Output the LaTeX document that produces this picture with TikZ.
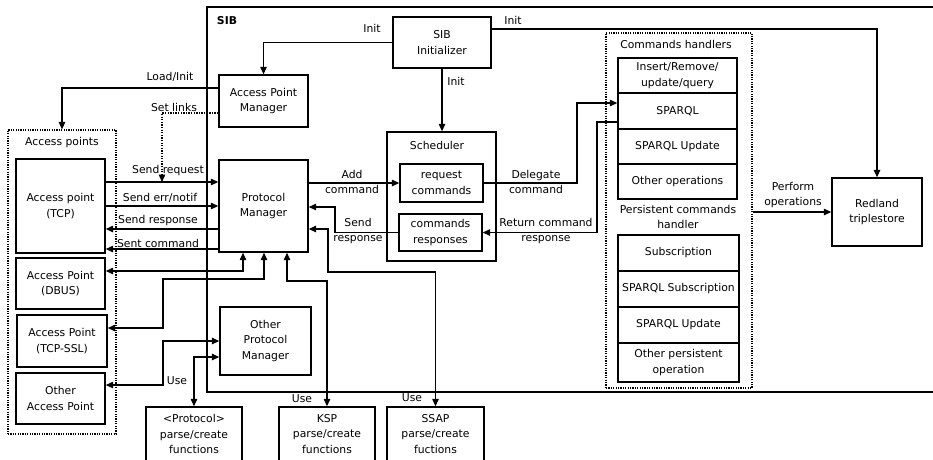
\documentclass[tikz,border=0pt]{standalone}
\usepackage{fontspec}
\setmainfont{DejaVu Sans}
\usetikzlibrary{arrows.meta}

\begin{document}
\begin{tikzpicture}[x=1pt, y=-1pt,
    font=\fontsize{10.8}{15.5}\selectfont,
    box/.style = {draw, line width=1.4pt, align=center, inner sep=1pt},
    area/.style = {draw, line width=1.2pt, dash pattern=on 1.2pt off 1.2pt},
    lbl/.style = {align=center, inner sep=0pt},
    arr/.style = {line width=1.3pt, -{Triangle[length=7.5pt,width=6.5pt]}},
    dbl/.style = {line width=1.3pt, {Triangle[length=7.5pt,width=6.5pt]}-{Triangle[length=7.5pt,width=6.5pt]}}]
    \useasboundingbox (0,0) rectangle (933,459);

    % Marco
    \node[draw, line width=1.4pt, minimum width=738pt, minimum height=385pt] (sib) at (576,199.5) {};
    \node[lbl, font=\fontsize{10.8}{12}\selectfont\bfseries] (sibl) at (227,21) {SIB};

    % Contenedores
    \node[area, minimum width=108pt, minimum height=304pt] (aps) at (62,282) {};
    \node[lbl] (apsl) at (62,143) {Access points};
    \node[area, minimum width=146pt, minimum height=355pt] (hnd) at (679,210.5) {};
    \node[lbl] (hndl) at (676,44) {Commands handlers};
    \node[lbl] (pers) at (678,217) {Persistent commands\\handler};

    % Cajas
    \node[box, minimum width=98pt, minimum height=51pt] (init) at (442,42.5) {SIB\\Initializer};
    \node[box, minimum width=89pt, minimum height=52pt] (apm) at (263.5,101) {Access Point\\Manager};
    \node[box, minimum width=89pt, minimum height=92pt] (pm) at (263.5,206) {Protocol\\Manager};
    \node[box, minimum width=91pt, minimum height=68pt] (opm) at (265.5,341) {Other\\Protocol\\Manager};

    \node[box, minimum width=89pt, minimum height=94pt] (tcp) at (60.5,206) {Access point\\(TCP)};
    \node[box, minimum width=89pt, minimum height=51pt] (dbus) at (60.5,283.5) {Access Point\\(DBUS)};
    \node[box, minimum width=90pt, minimum height=52pt] (ssl) at (62,341) {Access Point\\(TCP-SSL)};
    \node[box, minimum width=89pt, minimum height=51pt] (oap) at (60.5,398.5) {Other\\Access Point};

    \node[box, minimum width=109pt, minimum height=129pt] (sch) at (441.5,196.5) {};
    \node[lbl] (schl) at (437,145) {Scheduler};
    \node[box, minimum width=83pt, minimum height=38pt] (req) at (441.5,183) {request\\commands};
    \node[box, minimum width=83pt, minimum height=37pt] (resp) at (440.5,232.5) {commands\\responses};

    \node[box, minimum width=119pt, minimum height=35pt] (h1) at (677.5,75.5) {Insert/Remove/\\update/query};
    \node[box, minimum width=119pt, minimum height=36pt] (h2) at (677.5,111) {SPARQL};
    \node[box, minimum width=119pt, minimum height=35pt] (h3) at (677.5,146.5) {SPARQL Update};
    \node[box, minimum width=119pt, minimum height=35pt] (h4) at (677.5,181.5) {Other operations};

    \node[box, minimum width=121pt, minimum height=36pt] (p1) at (678.5,253) {Subscription};
    \node[box, minimum width=121pt, minimum height=36pt] (p2) at (678.5,289) {SPARQL Subscription};
    \node[box, minimum width=121pt, minimum height=36pt] (p3) at (678.5,325) {SPARQL Update};
    \node[box, minimum width=121pt, minimum height=39pt] (p4) at (678.5,362.5) {Other persistent\\operation};

    \node[box, minimum width=90pt, minimum height=68pt] (red) at (877,212) {Redland\\triplestore};

    \node[box, minimum width=96pt, minimum height=54pt] (prot) at (194,434) {<Protocol>\\parse/create\\functions};
    \node[box, minimum width=96pt, minimum height=54pt] (ksp) at (327,434) {KSP\\parse/create\\functions};
    \node[box, minimum width=97pt, minimum height=54pt] (ssap) at (435.5,434) {SSAP\\parse/create\\fuctions};

    % Etiquetas
    \node[lbl] (i1) at (372,28) {Init};
    \node[lbl] (i2) at (513,20) {Init};
    \node[lbl] (i3) at (456,81) {Init};
    \node[lbl] (load) at (170,77) {Load/Init};
    \node[lbl] (links) at (174,107) {Set links};
    \node[lbl] (sreq) at (168,171) {Send request};
    \node[lbl] (serr) at (160,198) {Send err/notif};
    \node[lbl] (sres) at (158,221) {Send response};
    \node[lbl] (scmd) at (158,243) {Sent command};
    \node[lbl] (add) at (352,182) {Add\\command};
    \node[lbl] (deleg) at (536,182) {Delegate\\command};
    \node[lbl] (back) at (358,231) {Send\\response};
    \node[lbl] (ret) at (546,231) {Return command\\response};
    \node[lbl] (perf) at (793,195) {Perform\\operations};
    \node[lbl] (u1) at (177,381) {Use};
    \node[lbl] (u2) at (302,399) {Use};
    \node[lbl] (u3) at (412,398) {Use};

    % Conexiones
    \coordinate (sl) at (162,182);
    \draw[arr] (init.west) -| (apm.north);
    \draw[arr] (init.east |- 0,29) -| (red.north);
    \draw[arr] (init.south) -- (init.south |- sch.north);
    \draw[arr] (apm.west |- 0,88) -| (aps.north);
    \draw[arr, dash pattern=on 1.3pt off 1.3pt] (apm.west |- 0,113) -| (sl);

    \draw[arr] (tcp.east |- 0,182) -- (pm.west |- 0,182);
    \draw[arr] (tcp.east |- 0,206) -- (pm.west |- 0,206);
    \draw[arr] (pm.west |- 0,229) -- (tcp.east |- 0,229);
    \draw[arr] (pm.west |- 0,249) -- (tcp.east |- 0,249);
    \draw[dbl] (dbus.east |- 0,271) -| (pm.south -| 243,0);
    \draw[dbl] (ssl.east |- 0,328) -| (163,279) -| (pm.south -| 264,0);
    \draw[dbl] (pm.south -| 287,0) |- (ksp.north |- 0,281) -- (ksp.north);
    \draw[dbl] (pm.east |- 0,229) -| (328,272) -| (ssap.north);
    \draw[dbl] (oap.east |- 0,385) -| (163,341) -- (opm.west |- 0,341);
    \draw[dbl] (prot.north) |- (opm.west |- 0,357);

    \draw[arr] (pm.east |- 0,183) -- (req.west);
    \draw[arr] (resp.west) -| (335,207) -- (pm.east |- 0,207);
    \draw[arr] (req.east) -| (577,103) -- (h2.west |- 0,103);
    \draw[arr] (h2.west |- 0,122) -| (597,232.5) -- (resp.east);
    \draw[arr] (hnd.east |- 0,212) -- (red.west);
\end{tikzpicture}
\end{document}
